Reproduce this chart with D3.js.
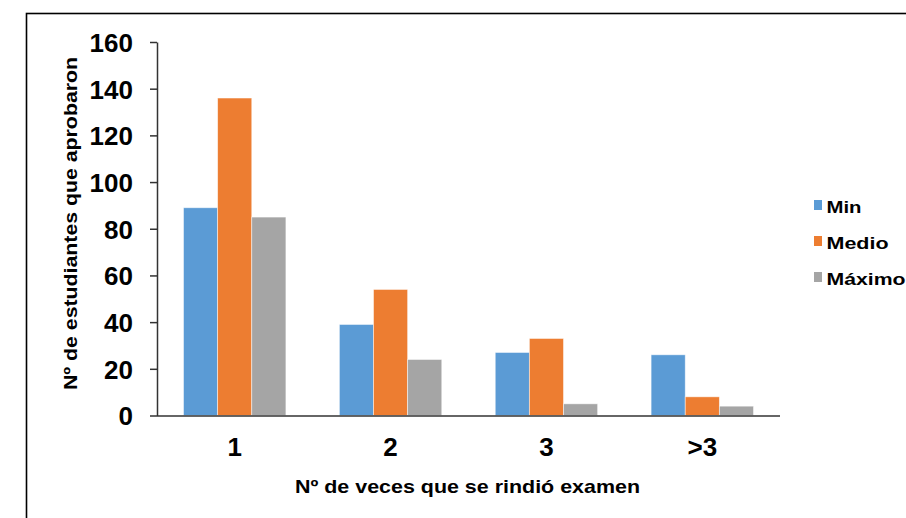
<!DOCTYPE html>
<html>
<head>
<meta charset="utf-8">
<script src="https://cdn.jsdelivr.net/npm/d3@7"></script>
<style>
  html, body { margin: 0; padding: 0; background: #fff; }
  svg { display: block; font-family: "Liberation Sans", Arial, sans-serif; }
</style>
</head>
<body>
<svg id="chart" width="906" height="518"></svg>
<script>
const categories = ["1", "2", "3", ">3"];
const seriesNames = ["Min", "Medio", "Máximo"];
const minValues = [89, 39, 27, 26];
const medioValues = [136, 54, 33, 8];
const maximoValues = [85, 24, 5, 4];
const yTicks = [0, 20, 40, 60, 80, 100, 120, 140, 160];
const colors = ["#5B9BD5", "#ED7D31", "#A5A5A5"];
const xTitle = "Nº de veces que se rindió examen";
const yTitle = "Nº de estudiantes que aprobaron";

const seriesValues = [minValues, medioValues, maximoValues];
const data = categories.map((c, i) => ({
  cat: c,
  vals: seriesNames.map((s, j) => ({ key: s, value: seriesValues[j][i], color: colors[j] }))
}));

const svg = d3.select("#chart");

// outer frame
svg.append("rect")
  .attr("x", 26.5).attr("y", 13.5)
  .attr("width", 1000).attr("height", 1000)
  .attr("fill", "none").attr("stroke", "#000").attr("stroke-width", 1.6);

const plotLeft = 157, plotRight = 780, plotTop = 42, plotBottom = 415.5;

const x0 = d3.scaleBand().domain(categories).range([plotLeft, plotRight]).paddingInner(0.343).paddingOuter(0.17);
const x1 = d3.scaleBand().domain(seriesNames).range([0, x0.bandwidth()]).padding(0);
const y = d3.scaleLinear().domain([0, 160]).range([plotBottom, plotTop]);

// bars
const groups = svg.append("g").selectAll("g").data(data).join("g")
  .attr("transform", d => `translate(${x0(d.cat)},0)`);
groups.selectAll("rect").data(d => d.vals).join("rect")
  .attr("x", d => x1(d.key))
  .attr("y", d => y(d.value))
  .attr("width", x1.bandwidth())
  .attr("height", d => y(0) - y(d.value))
  .attr("fill", d => d.color)
  .attr("stroke", "#ffffff")
  .attr("stroke-opacity", 0.6)
  .attr("stroke-width", 0.8);

// y axis
const yAxis = d3.axisLeft(y).tickValues(yTicks).tickSize(7).tickSizeOuter(0).tickPadding(17);
const yg = svg.append("g").attr("transform", `translate(${plotLeft},0)`).call(yAxis);
yg.select(".domain").attr("stroke", "#333").attr("stroke-width", 1.5);
yg.selectAll(".tick line").attr("stroke", "#333").attr("stroke-width", 1.5);
yg.selectAll(".tick text")
  .attr("font-family", "'Liberation Sans', Arial, sans-serif")
  .attr("font-size", 26).attr("font-weight", "bold").attr("fill", "#000")
  .attr("dy", "0.36em");

// x axis
const xAxis = d3.axisBottom(x0).tickSize(0).tickSizeOuter(0).tickPadding(33);
const xg = svg.append("g").attr("transform", `translate(0,${plotBottom})`).call(xAxis);
xg.select(".domain").attr("stroke", "#333").attr("stroke-width", 1.5)
  .attr("d", `M${plotLeft},0.5H${plotRight}`);
xg.selectAll(".tick text")
  .attr("font-family", "'Liberation Sans', Arial, sans-serif")
  .attr("font-size", 26).attr("font-weight", "bold").attr("fill", "#000")
  .attr("dy", "0.3em");

// axis titles
svg.append("text")
  .attr("x", 467.5).attr("y", 493)
  .attr("text-anchor", "middle")
  .attr("font-size", 19).attr("font-weight", "bold").attr("fill", "#000")
  .attr("textLength", 345).attr("lengthAdjust", "spacingAndGlyphs")
  .text(xTitle);

svg.append("text")
  .attr("transform", "translate(77,223.5) rotate(-90)")
  .attr("text-anchor", "middle")
  .attr("font-size", 19).attr("font-weight", "bold").attr("fill", "#000")
  .attr("textLength", 333).attr("lengthAdjust", "spacingAndGlyphs")
  .text(yTitle);

// legend
const legendWidths = [35, 62, 79];
const legend = svg.append("g").selectAll("g").data(seriesNames).join("g")
  .attr("transform", (d, i) => `translate(814,${200 + i * 36})`);
legend.append("rect")
  .attr("width", 8).attr("height", 10)
  .attr("fill", (d, i) => colors[i]);
legend.append("text")
  .attr("x", 12.5).attr("y", 12.5)
  .attr("font-size", 17).attr("font-weight", "bold").attr("fill", "#000")
  .attr("textLength", (d, i) => legendWidths[i]).attr("lengthAdjust", "spacingAndGlyphs")
  .text(d => d);
</script>
</body>
</html>
